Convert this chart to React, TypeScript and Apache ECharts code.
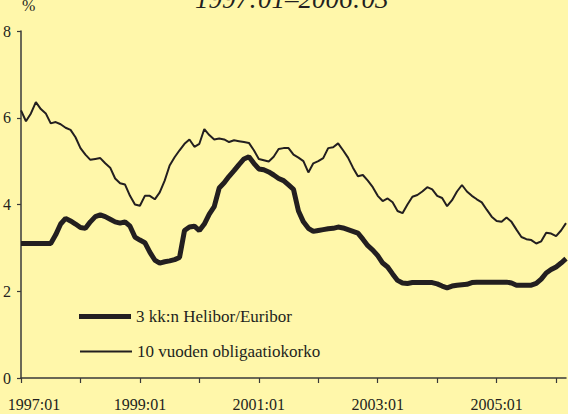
import React, { useEffect, useRef } from "react";
import * as echarts from "echarts";

const years = [1997, 1998, 1999, 2000, 2001, 2002, 2003, 2004, 2005, 2006];
const months = ["01", "02", "03", "04", "05", "06", "07", "08", "09", "10", "11", "12"];
const categories: string[] = [];
for (const y of years) {
  for (const m of months) {
    if (y === 2006 && Number(m) > 3) break;
    categories.push(`${y}:${m}`);
  }
}

const helibor = [
  3.1, 3.1, 3.1, 3.1, 3.1, 3.1, 3.1, 3.3, 3.55, 3.68, 3.62, 3.55,
  3.47, 3.45, 3.6, 3.72, 3.76, 3.72, 3.66, 3.6, 3.57, 3.6, 3.5, 3.25,
  3.18, 3.12, 2.9, 2.72, 2.65, 2.68, 2.7, 2.73, 2.78, 3.4, 3.48, 3.5,
  3.4, 3.55, 3.78, 3.95, 4.38, 4.5, 4.65, 4.78, 4.92, 5.05, 5.1, 4.95,
  4.82, 4.8, 4.75, 4.68, 4.6, 4.55, 4.45, 4.35, 3.85, 3.6, 3.45, 3.38,
  3.4, 3.42, 3.44, 3.45, 3.48, 3.46, 3.42, 3.38, 3.34, 3.2, 3.05, 2.95,
  2.82, 2.65, 2.56, 2.4, 2.25, 2.19, 2.18, 2.2, 2.2, 2.2, 2.2, 2.2,
  2.17, 2.12, 2.08, 2.12, 2.14, 2.15, 2.16, 2.2, 2.21, 2.21, 2.21, 2.21,
  2.21, 2.21, 2.21, 2.19, 2.14, 2.14, 2.14, 2.14, 2.18, 2.28, 2.42, 2.5,
  2.56, 2.65, 2.75,
];

const bond10y = [
  6.17, 5.92, 6.1, 6.36, 6.2, 6.1, 5.87, 5.9, 5.85, 5.77, 5.72, 5.55,
  5.3, 5.15, 5.03, 5.05, 5.07, 4.95, 4.85, 4.6, 4.49, 4.46, 4.2, 4.0,
  3.97, 4.2, 4.2, 4.12, 4.28, 4.55, 4.9, 5.09, 5.25, 5.4, 5.5, 5.33,
  5.4, 5.74, 5.6, 5.5, 5.52, 5.5, 5.44, 5.48, 5.46, 5.44, 5.42, 5.25,
  5.05, 5.02, 4.99, 5.1, 5.28, 5.3, 5.3, 5.15, 5.08, 5.0, 4.74, 4.95,
  5.0, 5.07, 5.3, 5.32, 5.41, 5.25, 5.08, 4.85, 4.65, 4.68, 4.55, 4.4,
  4.2, 4.08, 4.14, 4.05, 3.85, 3.8, 4.0, 4.18, 4.22, 4.3, 4.4, 4.35,
  4.2, 4.15, 3.96, 4.1, 4.3, 4.45, 4.3, 4.2, 4.12, 4.05, 3.88, 3.72,
  3.62, 3.6, 3.7, 3.6, 3.42, 3.25, 3.2, 3.18, 3.1, 3.15, 3.35, 3.33,
  3.27, 3.4, 3.57,
];

const seriesNames = ["3 kk:n Helibor/Euribor", "10 vuoden obligaatiokorko"];
const titleText = "1997:01–2006:03";
const unitText = "%";

const INK = "#231f20";
const AXIS = "#3a3a3a";
const BG = "#fff7aa";
const FONT = "Liberation Serif";

export default function App() {
  const ref = useRef<HTMLDivElement>(null);
  useEffect(() => {
    if (!ref.current) return;
    const chart = echarts.init(ref.current, null, { renderer: "svg" });
    chart.setOption({
      animation: false,
      backgroundColor: BG,
      textStyle: { fontFamily: FONT },
      title: {
        text: titleText,
        left: 195,
        top: -15,
        padding: 0,
        textStyle: { fontFamily: FONT, fontStyle: "italic", fontWeight: "normal", fontSize: 27, color: INK },
      },
      graphic: [
        {
          type: "text",
          left: 22,
          top: -3,
          style: { text: unitText, fontFamily: FONT, fontSize: 16, fill: INK },
        },
      ],
      legend: [
        {
          data: [seriesNames[0]],
          left: 79,
          top: 308,
          padding: 0,
          icon: "rect",
          itemWidth: 52,
          itemHeight: 5,
          itemGap: 6,
          textStyle: { fontFamily: FONT, fontSize: 17, color: INK },
          itemStyle: { color: INK },
        },
        {
          data: [seriesNames[1]],
          left: 80,
          top: 343,
          padding: 0,
          icon: "rect",
          itemWidth: 52,
          itemHeight: 2,
          itemGap: 6,
          textStyle: { fontFamily: FONT, fontSize: 17, color: INK },
          itemStyle: { color: INK },
        },
      ],
      grid: { left: 21, right: 2, top: 31, bottom: 36, containLabel: false },
      xAxis: {
        type: "category",
        data: categories,
        boundaryGap: false,
        axisLine: { lineStyle: { color: AXIS, width: 1.5 } },
        axisTick: { interval: 11, length: 5, lineStyle: { color: AXIS, width: 1.2 } },
        axisLabel: {
          interval: 23,
          margin: 18,
          fontFamily: FONT,
          fontSize: 16,
          color: INK,
          formatter: (v: string, i: number) => (i === 0 ? `{first|${v}}` : v),
          rich: { first: { padding: [0, 0, 0, 26], fontFamily: FONT, fontSize: 16, color: INK } },
        },
        splitLine: { show: false },
      },
      yAxis: {
        type: "value",
        min: 0,
        max: 8,
        interval: 2,
        axisLine: { show: true, lineStyle: { color: AXIS, width: 1.5 } },
        axisTick: { show: true, length: 4, lineStyle: { color: AXIS, width: 1.2 } },
        axisLabel: { margin: 10, fontFamily: FONT, fontSize: 16, color: INK },
        splitLine: { show: false },
      },
      series: [
        {
          name: seriesNames[0],
          type: "line",
          data: helibor,
          symbol: "none",
          lineStyle: { color: INK, width: 5 },
          itemStyle: { color: INK },
        },
        {
          name: seriesNames[1],
          type: "line",
          data: bond10y,
          symbol: "none",
          lineStyle: { color: INK, width: 2 },
          itemStyle: { color: INK },
        },
      ],
    });
    return () => chart.dispose();
  }, []);
  return (
    <div
      ref={ref}
      style={{ position: "fixed", left: 0, top: 0, width: 568, height: 414 }}
    />
  );
}
